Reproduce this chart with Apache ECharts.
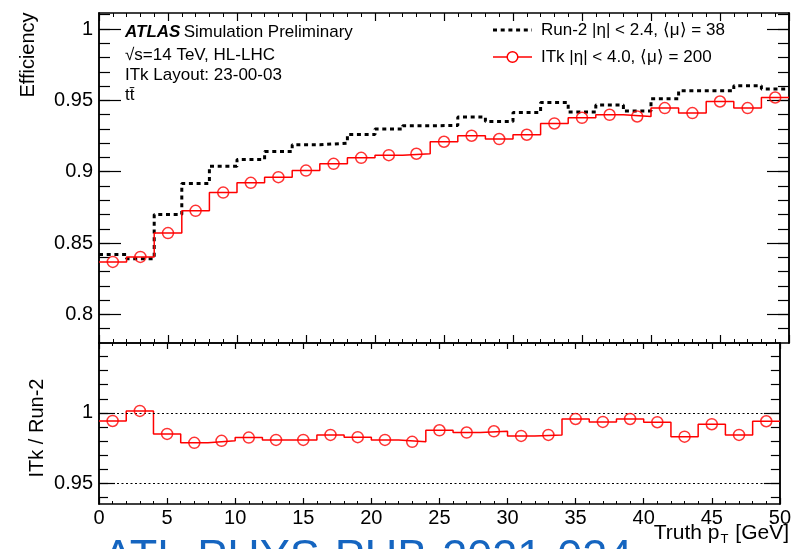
<!DOCTYPE html>
<html>
<head>
<meta charset="utf-8">
<script src="https://cdn.jsdelivr.net/npm/echarts@6/dist/echarts.min.js"></script>
<style>
html,body{margin:0;padding:0;background:#fff;}
#main{width:794px;height:549px;}
</style>
</head>
<body>
<div id="main"></div>
<script>
// ---- data ----
var binCenters = [1,3,5,7,9,11,13,15,17,19,21,23,25,27,29,31,33,35,37,39,41,43,45,47,49];
var binLowEdges = [0,2,4,6,8,10,12,14,16,18,20,22,24,26,28,30,32,34,36,38,40,42,44,46,48];
var binUpperLast = 50;
var run2Eff = [0.842,0.839,0.870,0.8917,0.9039,0.9086,0.9142,0.9189,0.920,0.9261,0.9299,0.9322,0.9324,0.9383,0.9352,0.9415,0.9485,0.9418,0.9467,0.9425,0.9511,0.9567,0.9567,0.9602,0.9579];
var itkEff = [0.8368,0.8403,0.857,0.8726,0.8854,0.8922,0.8962,0.9008,0.9055,0.9097,0.9116,0.9126,0.921,0.9252,0.9229,0.9259,0.9338,0.9378,0.9399,0.9387,0.9446,0.9411,0.9492,0.9446,0.952];
var ratio = [0.9943,1.0014,0.9851,0.9788,0.9802,0.9825,0.9809,0.9809,0.9844,0.9828,0.9809,0.9795,0.9877,0.9861,0.987,0.9837,0.9844,0.9957,0.9936,0.9957,0.9934,0.9832,0.992,0.9844,0.9941];
var topMajor = [0.8,0.85,0.9,0.95,1];
var topMinor = [0.79,0.8,0.81,0.82,0.83,0.84,0.85,0.86,0.87,0.88,0.89,0.9,0.91,0.92,0.93,0.94,0.95,0.96,0.97,0.98,0.99,1,1.01];
var botMajor = [0.95,1];
var botMinor = [0.94,0.95,0.96,0.97,0.98,0.99,1,1.01,1.02,1.03,1.04];
var refLines = [1,0.95];

// ---- helpers ----
function stepData(vals){
  var d = binLowEdges.map(function(x,i){return [x, vals[i]];});
  d.push([binUpperLast, vals[vals.length-1]]);
  return d;
}
function pts(vals){ return binCenters.map(function(x,i){return [x, vals[i]];}); }

var FONT = '"Liberation Sans", Arial, Helvetica, sans-serif';
var AXC = '#000';

function xAx(grid, pos, showLabel, majLen, minLen){
  return {
    type:'value', gridIndex:grid, position:pos, min:0, max:50, interval:5,
    axisLine:{show:true, onZero:false, lineStyle:{color:AXC, width:1.5}},
    axisTick:{show:true, inside:true, length:majLen, lineStyle:{color:AXC, width:1.2}},
    minorTick:{show:true, splitNumber:5, length:minLen, lineStyle:{color:AXC, width:1}},
    axisLabel:{show:showLabel, color:'#000', fontFamily:FONT, fontSize:20, margin:4, showMinLabel:true, showMaxLabel:true},
    splitLine:{show:false}, minorSplitLine:{show:false}
  };
}
function yAx(grid, pos, min, max, vals, len, showLabel){
  return {
    type:'value', gridIndex:grid, position:pos, min:min, max:max,
    axisLine:{show:true, onZero:false, lineStyle:{color:AXC, width:1.5}},
    axisTick:{show:true, inside:true, length:len, customValues:vals, lineStyle:{color:AXC, width:1.2}},
    axisLabel:{show:showLabel, customValues:vals, color:'#000', fontFamily:FONT, fontSize:20, margin:6,
      formatter:function(v){ return String(+v.toFixed(3)); }},
    splitLine:{show:false}
  };
}

var TOPMIN = 0.78, TOPMAX = 1.0112, BOTMIN = 0.9355, BOTMAX = 1.0495;

var option = {
  animation:false,
  backgroundColor:'#fff',
  grid:[
    {left:99, right:5, top:13, height:330},
    {left:99, right:5, top:343, height:161}
  ],
  xAxis:[
    xAx(0,'bottom',false,8,4),
    xAx(0,'top',false,8,4),
    xAx(1,'bottom',true,6,3),
    xAx(1,'top',false,6,3)
  ],
  yAxis:[
    yAx(0,'left',TOPMIN,TOPMAX,topMajor,22,true),
    yAx(0,'left',TOPMIN,TOPMAX,topMinor,11,false),
    yAx(0,'right',TOPMIN,TOPMAX,topMajor,22,false),
    yAx(0,'right',TOPMIN,TOPMAX,topMinor,11,false),
    yAx(1,'left',BOTMIN,BOTMAX,botMajor,16,true),
    yAx(1,'left',BOTMIN,BOTMAX,botMinor,9,false),
    yAx(1,'right',BOTMIN,BOTMAX,botMajor,16,false),
    yAx(1,'right',BOTMIN,BOTMAX,botMinor,9,false)
  ],
  series:[
    {type:'line', name:'Run-2', xAxisIndex:0, yAxisIndex:0, step:'end', symbol:'none',
     data:stepData(run2Eff), lineStyle:{color:'#000', width:3, type:[4,3.7]}, z:3},
    {type:'line', name:'ITk', xAxisIndex:0, yAxisIndex:0, step:'end', symbol:'none',
     data:stepData(itkEff), lineStyle:{color:'#ff0000', width:1.5}, z:4},
    {type:'scatter', name:'ITk pts', xAxisIndex:0, yAxisIndex:0, symbol:'circle', symbolSize:11,
     data:pts(itkEff), itemStyle:{color:'rgba(0,0,0,0)', borderColor:'#ff0000', borderWidth:1.5}, z:5},
    {type:'line', name:'ratio', xAxisIndex:2, yAxisIndex:4, step:'end', symbol:'none',
     data:stepData(ratio), lineStyle:{color:'#ff0000', width:1.5}, z:4,
     markLine:{silent:true, symbol:['none','none'], label:{show:false},
       lineStyle:{color:'#000', width:1, type:[2,2.5]},
       data:refLines.map(function(v){return {yAxis:v};})}},
    {type:'scatter', name:'ratio pts', xAxisIndex:2, yAxisIndex:4, symbol:'circle', symbolSize:11,
     data:pts(ratio), itemStyle:{color:'rgba(0,0,0,0)', borderColor:'#ff0000', borderWidth:1.5}, z:5}
  ],
  graphic:[
    // axis titles
    {type:'text', x:28, y:55, rotation:Math.PI/2,
     style:{text:'Efficiency', font:'20px '+FONT, fill:'#000', align:'center', verticalAlign:'middle'}},
    {type:'text', x:37, y:428, rotation:Math.PI/2,
     style:{text:'ITk / Run-2', font:'20px '+FONT, fill:'#000', align:'center', verticalAlign:'middle'}},
    {type:'text', x:789, y:533,
     style:{text:'{n|Truth p}{s|T}{n| [GeV]}', align:'right', verticalAlign:'middle',
       rich:{n:{fontFamily:FONT, fontSize:21, fill:'#000'}, s:{fontFamily:FONT, fontSize:13, fill:'#000', padding:[13,1,0,1]}}}},
    // ATLAS label block
    {type:'text', x:125, y:32,
     style:{text:'{a|ATLAS} {b|Simulation Preliminary}', verticalAlign:'middle',
       rich:{a:{fontFamily:FONT, fontSize:17, fontWeight:'bold', fontStyle:'italic', fill:'#000'},
             b:{fontFamily:FONT, fontSize:17, fill:'#000'}}}},
    {type:'text', x:125, y:55, style:{text:'\u221As=14 TeV, HL-LHC', font:'17px '+FONT, fill:'#000', verticalAlign:'middle'}},
    {type:'text', x:125, y:75, style:{text:'ITk Layout: 23-00-03', font:'17px '+FONT, fill:'#000', verticalAlign:'middle'}},
    {type:'text', x:125, y:95, style:{text:'tt\u0304', font:'17px '+FONT, fill:'#000', verticalAlign:'middle'}},
    // legend
    {type:'line', shape:{x1:493, y1:30, x2:532, y2:30}, style:{stroke:'#000', lineWidth:3, lineDash:[4,3.7]}},
    {type:'text', x:541, y:30, style:{text:'Run-2 |\u03B7| < 2.4, \u27E8\u03BC\u27E9 = 38', font:'17px '+FONT, fill:'#000', verticalAlign:'middle'}},
    {type:'line', shape:{x1:493, y1:57, x2:532, y2:57}, style:{stroke:'#ff0000', lineWidth:1.5}},
    {type:'circle', shape:{cx:512.5, cy:57, r:5.3}, style:{fill:'#fff', stroke:'#ff0000', lineWidth:1.5}},
    {type:'text', x:541, y:57, style:{text:'ITk |\u03B7| < 4.0, \u27E8\u03BC\u27E9 = 200', font:'17px '+FONT, fill:'#000', verticalAlign:'middle'}},
    // publication reference (clipped at bottom)
    {type:'text', x:103, y:559, style:{text:'ATL-PHYS-PUB-2021-024', font:'45px '+FONT, fill:'#1565c0', verticalAlign:'middle'}}
  ]
};

var chart = echarts.init(document.getElementById('main'), null, {renderer:'canvas'});
chart.setOption(option);
</script>
</body>
</html>
